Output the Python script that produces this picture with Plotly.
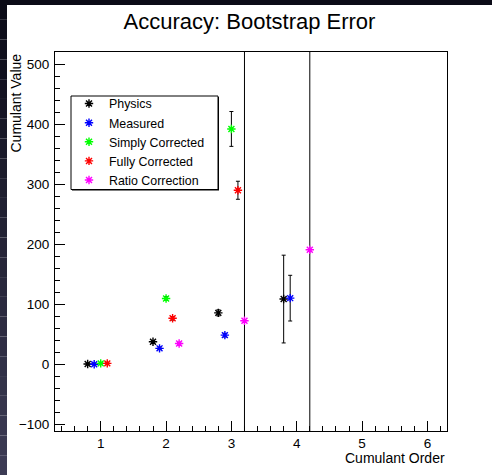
import plotly.graph_objects as go

# ---------------- data ----------------
series_names = ["Physics", "Measured", "Simply Corrected", "Fully Corrected", "Ratio Correction"]
series_colors = ["#000000", "#0000ff", "#00ff00", "#ff0000", "#ff00ff"]

physics_x = [0.8, 1.8, 2.8, 3.8]
physics_y = [1.0, 38.0, 86.0, 109.0]
physics_err = [1.0, 2.0, 5.0, 73.0]

measured_x = [0.9, 1.9, 2.9, 3.9]
measured_y = [0.5, 27.0, 49.0, 110.5]
measured_err = [1.0, 2.0, 3.0, 38.0]

simply_x = [1.0, 2.0, 3.0]
simply_y = [2.0, 110.0, 392.0]
simply_err = [1.0, 3.0, 29.0]

fully_x = [1.1, 2.1, 3.1]
fully_y = [2.0, 77.0, 290.0]
fully_err = [1.0, 3.0, 15.0]

ratio_x = [2.2, 3.2, 4.2]
ratio_y = [35.0, 73.0, 191.0]
ratio_err = [2.0, 600.0, 600.0]

x_ticks = [1, 2, 3, 4, 5, 6]
y_ticks = [-100, 0, 100, 200, 300, 400, 500]

# ---------------- layout geometry ----------------
W, H = 492, 475
L, R, T, B = 55, 45, 52, 44
PW, PH = W - L - R, H - T - B


def px_x(p):
    return (p - L) / PW


def px_y(p):
    return (H - B - p) / PH


FONT = "Liberation Sans, Arial, Helvetica, sans-serif"

fig = go.Figure()

all_series = [
    (physics_x, physics_y, physics_err),
    (measured_x, measured_y, measured_err),
    (simply_x, simply_y, simply_err),
    (fully_x, fully_y, fully_err),
    (ratio_x, ratio_y, ratio_err),
]

for name, color, (xs, ys, es) in zip(series_names, series_colors, all_series):
    fig.add_trace(go.Scatter(
        x=xs, y=ys, mode="markers", name=name,
        marker=dict(symbol="asterisk-open", size=7, color=color,
                    line=dict(color=color, width=1.4)),
        error_y=dict(type="data", array=es, visible=True, color="#000000",
                     thickness=1, width=2),
    ))

axis_common = dict(
    showgrid=False, zeroline=False, showline=True, linecolor="#000000",
    linewidth=1, mirror=True, ticks="inside", tickcolor="#000000",
    tickwidth=1, ticklen=10,
    tickfont=dict(family=FONT, size=13.5, color="#000000"),
)

fig.update_xaxes(
    range=[0.3, 6.3], tickmode="array", tickvals=x_ticks,
    minor=dict(ticks="inside", dtick=0.2, tick0=0, ticklen=5,
               tickcolor="#000000", tickwidth=1, showgrid=False),
    **axis_common,
)
fig.update_yaxes(
    range=[-110.5, 520], tickmode="array", tickvals=y_ticks,
    ticktext=["\u2212100", "0", "100", "200", "300", "400", "500"],
    minor=dict(ticks="inside", dtick=20, tick0=0, ticklen=5,
               tickcolor="#000000", tickwidth=1, showgrid=False),
    ticklabelstandoff=2,
    **axis_common,
)

# dark window border (top band + left gradient band)
shapes = [dict(type="rect", xref="paper", yref="paper",
               x0=px_x(0), x1=px_x(W), y0=px_y(5), y1=px_y(0),
               fillcolor="#0b0b17", line=dict(width=0), layer="above")]
n_seg = 24
c0 = (11, 11, 23)
c1 = (60, 59, 84)
for i in range(n_seg):
    t = i / (n_seg - 1)
    col = "rgb(%d,%d,%d)" % tuple(round(a + (b - a) * t) for a, b in zip(c0, c1))
    y_top = i * H / n_seg
    y_bot = (i + 1) * H / n_seg
    shapes.append(dict(type="rect", xref="paper", yref="paper",
                       x0=px_x(0), x1=px_x(7), y0=px_y(y_bot), y1=px_y(y_top),
                       fillcolor=col, line=dict(width=0), layer="above"))

# legend frame (ROOT style, with thin shadow)
shapes.append(dict(type="rect", xref="paper", yref="paper",
                   x0=px_x(72), x1=px_x(219), y0=px_y(190.5), y1=px_y(97),
                   fillcolor="#000000", line=dict(width=0), layer="above"))
shapes.append(dict(type="rect", xref="paper", yref="paper",
                   x0=px_x(71), x1=px_x(218), y0=px_y(189.5), y1=px_y(96),
                   fillcolor="#ffffff", line=dict(color="#000000", width=1),
                   layer="above"))

fig.update_layout(
    width=W, height=H,
    margin=dict(l=L, r=R, t=T, b=B, pad=0),
    paper_bgcolor="#ffffff", plot_bgcolor="#ffffff",
    font=dict(family=FONT, color="#000000"),
    title=dict(text="Accuracy: Bootstrap Error", x=px_x(249.5), xref="paper",
               xanchor="center", y=1 - 21.5 / H, yanchor="middle",
               font=dict(family=FONT, size=22, color="#000000")),
    showlegend=True,
    legend=dict(x=px_x(69), y=px_y(89), xanchor="left", yanchor="top",
                bgcolor="rgba(0,0,0,0)", borderwidth=0,
                font=dict(family=FONT, size=12.4, color="#000000")),
    shapes=shapes,
    annotations=[
        dict(text="Cumulant Value", textangle=-90, xref="paper", yref="paper",
             x=px_x(15), y=1, xanchor="center", yanchor="top", showarrow=False,
             font=dict(family=FONT, size=14, color="#000000")),
        dict(text="Cumulant Order", xref="paper", yref="paper",
             x=1, y=px_y(457.5), xanchor="right", yanchor="middle", showarrow=False,
             font=dict(family=FONT, size=14, color="#000000")),
    ],
)

fig.write_html("out.html", config={"displayModeBar": False},
               post_script="document.body.style.margin='0';")
